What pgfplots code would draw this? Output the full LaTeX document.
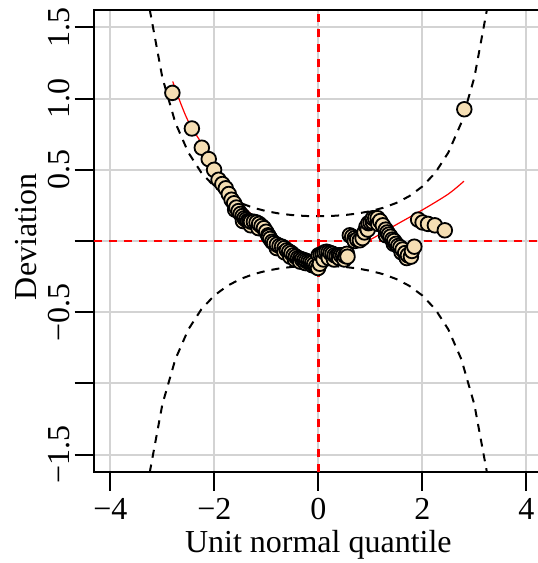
\documentclass[border=0pt]{standalone}
\usepackage{fontspec}
\setmainfont{Liberation Serif}
\usepackage{pgfplots}
\pgfplotsset{compat=1.18}
\definecolor{wheat}{HTML}{F5DEB3}
\definecolor{lgray}{HTML}{D3D3D3}
\pgfplotstableread{
x y
-2.807 1.04
-2.432 0.79
-2.241 0.655
-2.108 0.575
-2.005 0.50
-1.919 0.43
-1.846 0.40
-1.780 0.37
-1.722 0.33
-1.669 0.29
-1.620 0.265
-1.600 0.22
-1.576 0.235
-1.534 0.21
-1.495 0.19
-1.457 0.175
-1.450 0.14
-1.422 0.16
-1.388 0.15
-1.356 0.14
-1.325 0.14
-1.300 0.11
-1.296 0.135
-1.240 0.135
-1.188 0.13
-1.150 0.09
-1.139 0.12
-1.093 0.105
-1.047 0.09
-1.004 0.065
-0.964 0.04
-0.950 0.03
-0.925 0.015
-0.887 -0.005
-0.851 -0.015
-0.800 -0.05
-0.798 -0.025
-0.747 -0.035
-0.698 -0.04
-0.651 -0.05
-0.650 -0.08
-0.605 -0.065
-0.561 -0.075
-0.540 -0.11
-0.517 -0.085
-0.475 -0.10
-0.450 -0.13
-0.433 -0.11
-0.392 -0.12
-0.352 -0.125
-0.350 -0.145
-0.312 -0.13
-0.273 -0.135
-0.250 -0.155
-0.234 -0.14
-0.195 -0.145
-0.157 -0.15
-0.120 -0.17
-0.119 -0.155
-0.082 -0.165
-0.044 -0.18
-0.006 -0.19
0.006 -0.10
0.030 -0.16
0.044 -0.095
0.082 -0.09
0.100 -0.13
0.119 -0.08
0.157 -0.075
0.195 -0.08
0.200 -0.12
0.234 -0.085
0.273 -0.09
0.300 -0.13
0.312 -0.10
0.352 -0.105
0.392 -0.10
0.400 -0.12
0.433 -0.10
0.475 -0.10
0.500 -0.13
0.517 -0.105
0.550 -0.09
0.561 -0.11
0.605 0.04
0.651 0.03
0.698 0.02
0.700 0.00
0.747 0.01
0.798 0.005
0.851 0.02
0.887 0.06
0.925 0.10
0.950 0.08
0.964 0.125
1.004 0.13
1.047 0.135
1.050 0.16
1.093 0.16
1.139 0.16
1.150 0.12
1.188 0.14
1.240 0.11
1.296 0.08
1.300 0.04
1.325 0.06
1.356 0.045
1.388 0.03
1.422 0.01
1.450 -0.02
1.457 0.0
1.495 -0.02
1.534 -0.035
1.576 -0.045
1.600 -0.08
1.620 -0.06
1.669 -0.085
1.700 -0.12
1.722 -0.10
1.780 -0.11
1.800 -0.07
1.846 -0.04
1.919 0.15
2.005 0.13
2.108 0.12
2.241 0.11
2.432 0.075
2.807 0.925
}\worm
\pgfplotstableread{
z hi lo
-4.00 5.828 -5.828
-3.75 3.696 -3.696
-3.50 2.422 -2.422
-3.25 1.640 -1.640
-3.00 1.148 -1.148
-2.75 0.8307 -0.8307
-2.50 0.6212 -0.6212
-2.25 0.4798 -0.4798
-2.00 0.3827 -0.3827
-1.75 0.3150 -0.3150
-1.50 0.2672 -0.2672
-1.25 0.2333 -0.2333
-1.00 0.2093 -0.2093
-0.75 0.1927 -0.1927
-0.50 0.1818 -0.1818
-0.25 0.1757 -0.1757
0.00 0.1737 -0.1737
0.25 0.1757 -0.1757
0.50 0.1818 -0.1818
0.75 0.1927 -0.1927
1.00 0.2093 -0.2093
1.25 0.2333 -0.2333
1.50 0.2672 -0.2672
1.75 0.3150 -0.3150
2.00 0.3827 -0.3827
2.25 0.4798 -0.4798
2.50 0.6212 -0.6212
2.75 0.8307 -0.8307
3.00 1.148 -1.148
3.25 1.640 -1.640
3.50 2.422 -2.422
3.75 3.696 -3.696
4.00 5.828 -5.828
}\band
\begin{document}
\fontsize{32}{38}\selectfont
\begin{tikzpicture}
\begin{axis}[
  at={(0,0)}, anchor=south west,
  scale only axis, width=449.3pt, height=461.4pt,
  xmin=-4.32, xmax=4.32, ymin=-1.62, ymax=1.62,
  axis line style={line width=2pt},
  xtick={-4,-2,0,2,4}, xticklabels={−4,−2,0,2,4},
  ytick={-1.5,-1,-0.5,0,0.5,1,1.5},
  yticklabels={−1.5,,−0.5,,0.5,1.0,1.5},
  tick align=outside, major tick length=19pt,
  tick style={line width=2pt, black},
  tick pos=left,
  grid=major, major grid style={lgray, line width=2pt},
  xticklabel style={anchor=base, yshift=-29.3pt},
  yticklabel style={rotate=90, anchor=base},
  yticklabel shift=5.5pt,
  xlabel={Unit normal quantile},
  ylabel={Deviation},
  xlabel style={at={(axis description cs:0.5,-0.1762)}, anchor=base},
  ylabel style={at={(axis description cs:-0.1284,0.5087)}, anchor=base},
]
\addplot[only marks, mark=*, mark size=7.3pt,
  mark options={fill=wheat, draw=black, line width=1.8pt}] table[x=x,y=y] {\worm};
\addplot[black, line width=2pt, dash pattern=on 8pt off 7pt] table[x=z,y=hi] {\band};
\addplot[black, line width=2pt, dash pattern=on 8pt off 7pt] table[x=z,y=lo] {\band};
\addplot[red, line width=2.5pt, dash pattern=on 8pt off 7pt] coordinates {(-4.32,0) (4.32,0)};
\addplot[red, line width=2.5pt, dash pattern=on 8pt off 7pt] coordinates {(0,-1.62) (0,1.62)};
\addplot[red, line width=1.2pt, smooth] coordinates {
(-2.8,1.12) (-2.5,0.84) (-2.0,0.55) (-1.5,0.265) (-1.0,0.10) (-0.5,-0.063)
(0.0,-0.105) (0.5,-0.07) (1.0,0.01) (1.5,0.115) (2.0,0.218) (2.5,0.33) (2.8,0.42)};
\end{axis}
\pgfresetboundingbox
\useasboundingbox (-93.7pt,-91.3pt) rectangle (444.3pt,471.7pt);
\end{tikzpicture}
\end{document}
